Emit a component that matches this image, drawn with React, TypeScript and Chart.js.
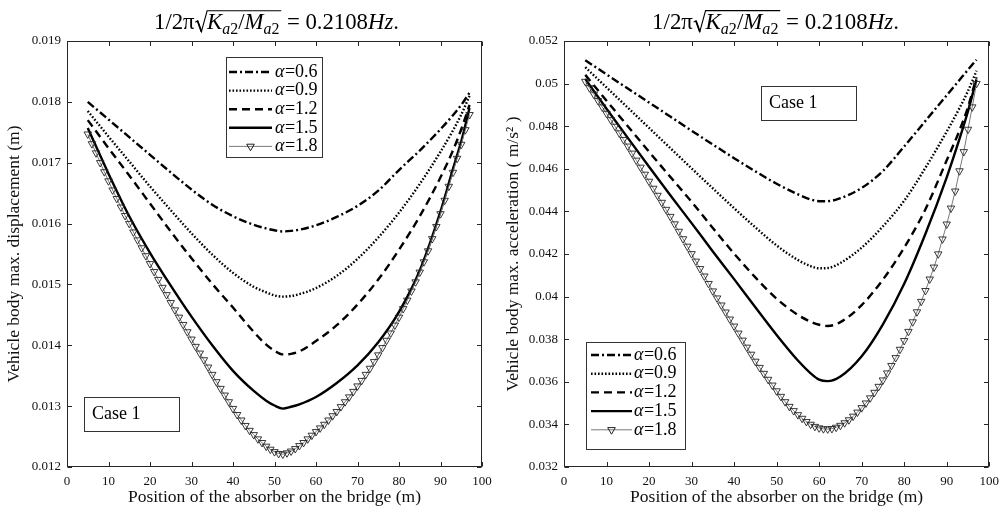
import React, { useEffect, useRef } from "react";
import { Chart, registerables } from "chart.js";

Chart.register(...registerables);

const FONT = "'Liberation Serif', 'Times New Roman', 'DejaVu Serif', serif";

// ---------------- data ----------------
const SERIES_LABELS = ["α=0.6", "α=0.9", "α=1.2", "α=1.5", "α=1.8"];
const X_TICKS = [0, 10, 20, 30, 40, 50, 60, 70, 80, 90, 100];
const DISP_Y_TICKS = [0.012, 0.013, 0.014, 0.015, 0.016, 0.017, 0.018, 0.019];
const ACC_Y_TICKS = [0.032, 0.034, 0.036, 0.038, 0.04, 0.042, 0.044, 0.046, 0.048, 0.05, 0.052];

// positions (m) used for the four line-only series
const DISP_X = [5, 10, 15, 20, 25, 30, 35, 40, 45, 48, 50, 52, 54, 56, 60, 65, 70, 75, 80, 85, 90, 93, 95, 97];
const DISP_A06 = [0.018, 0.01771, 0.01742, 0.01713, 0.01684, 0.01656, 0.01631, 0.01612, 0.01598, 0.01592, 0.01589, 0.01587, 0.01588, 0.0159, 0.01597, 0.01611, 0.01629, 0.01654, 0.01688, 0.0172, 0.01755, 0.01778, 0.01795, 0.01815];
const DISP_A09 = [0.01785, 0.01743, 0.01702, 0.01661, 0.01622, 0.01584, 0.01549, 0.01519, 0.01496, 0.01487, 0.01482, 0.0148, 0.01481, 0.01484, 0.01494, 0.01514, 0.01542, 0.01577, 0.01618, 0.01665, 0.01718, 0.01753, 0.01779, 0.0181];
const DISP_A12 = [0.0177, 0.01724, 0.01679, 0.01633, 0.01587, 0.01543, 0.01501, 0.01462, 0.01422, 0.01401, 0.01391, 0.01385, 0.01386, 0.0139, 0.01407, 0.01433, 0.01467, 0.01508, 0.01557, 0.01612, 0.01676, 0.0172, 0.01755, 0.01795];
const DISP_A15 = [0.01757, 0.01682, 0.01612, 0.01552, 0.01498, 0.01447, 0.014, 0.01358, 0.01325, 0.01309, 0.01301, 0.01296, 0.01299, 0.01303, 0.01315, 0.01338, 0.01367, 0.01405, 0.01455, 0.01523, 0.0162, 0.0169, 0.01735, 0.0179];

// positions (m) of the marked series
const DENSE_X = [5, 6, 7, 8, 9, 10, 11, 12, 13, 14, 15, 16, 17, 18, 19, 20, 21, 22, 23, 24, 25, 26, 27, 28, 29, 30, 31, 32, 33, 34, 35, 36, 37, 38, 39, 40, 41, 42, 43, 44, 45, 46, 47, 48, 49, 50, 51, 52, 53, 54, 55, 56, 57, 58, 59, 60, 61, 62, 63, 64, 65, 66, 67, 68, 69, 70, 71, 72, 73, 74, 75, 76, 77, 78, 79, 80, 81, 82, 83, 84, 85, 86, 87, 88, 89, 90, 91, 92, 93, 94, 95, 96, 97];
const DISP_A18 = [0.01747, 0.01731, 0.01716, 0.017, 0.01685, 0.0167, 0.01655, 0.01641, 0.01627, 0.01613, 0.016, 0.01586, 0.01573, 0.0156, 0.01547, 0.01534, 0.01521, 0.01508, 0.01495, 0.01483, 0.0147, 0.01458, 0.01446, 0.01434, 0.01422, 0.0141, 0.01398, 0.01387, 0.01376, 0.01364, 0.01352, 0.0134, 0.01329, 0.01318, 0.01307, 0.01296, 0.01286, 0.01277, 0.01268, 0.0126, 0.01253, 0.01246, 0.0124, 0.01234, 0.01229, 0.01225, 0.01222, 0.01221, 0.01223, 0.01226, 0.0123, 0.01235, 0.0124, 0.01246, 0.01252, 0.01258, 0.01264, 0.0127, 0.01277, 0.01284, 0.01291, 0.01299, 0.01307, 0.01315, 0.01324, 0.01333, 0.01342, 0.01352, 0.01362, 0.01373, 0.01384, 0.01396, 0.01408, 0.0142, 0.01433, 0.01446, 0.0146, 0.01474, 0.01489, 0.01504, 0.0152, 0.01537, 0.01555, 0.01575, 0.01595, 0.01616, 0.01638, 0.01661, 0.01684, 0.01707, 0.0173, 0.01754, 0.01779];

const ACC_X = [5, 10, 15, 20, 25, 30, 35, 40, 45, 50, 55, 58, 60, 62, 65, 70, 75, 80, 85, 90, 93, 95, 97];
const ACC_A06 = [0.0511, 0.05043, 0.04977, 0.04911, 0.04845, 0.04779, 0.04714, 0.0465, 0.04588, 0.0453, 0.0448, 0.04456, 0.04448, 0.04448, 0.04462, 0.0451, 0.0459, 0.04705, 0.04825, 0.04945, 0.05017, 0.05065, 0.05112];
const ACC_A09 = [0.05077, 0.04982, 0.04887, 0.04792, 0.04697, 0.04602, 0.04508, 0.04415, 0.04325, 0.0424, 0.04172, 0.04143, 0.04133, 0.04134, 0.04158, 0.0423, 0.0433, 0.0445, 0.04605, 0.04775, 0.04885, 0.04965, 0.0506];
const ACC_A12 = [0.05041, 0.0492, 0.048, 0.0468, 0.04562, 0.04445, 0.04322, 0.04202, 0.0409, 0.0399, 0.03914, 0.03882, 0.03868, 0.03862, 0.0388, 0.0396, 0.0408, 0.0423, 0.0441, 0.0464, 0.0478, 0.0489, 0.0503];
const ACC_A15 = [0.05022, 0.04882, 0.04745, 0.0461, 0.04476, 0.04345, 0.04212, 0.04082, 0.0395, 0.0382, 0.037, 0.0364, 0.0361, 0.03603, 0.03625, 0.0372, 0.0387, 0.0406, 0.04295, 0.0456, 0.0474, 0.0487, 0.0502];
const ACC_A18 = [0.0501, 0.0498, 0.0495, 0.0492, 0.0489, 0.0486, 0.0483, 0.04799, 0.04768, 0.04737, 0.04706, 0.04673, 0.0464, 0.04607, 0.04574, 0.04541, 0.04508, 0.04475, 0.04442, 0.04409, 0.04376, 0.04341, 0.04306, 0.04271, 0.04236, 0.04201, 0.04166, 0.04131, 0.04096, 0.04061, 0.04026, 0.03993, 0.0396, 0.03927, 0.03894, 0.03861, 0.03828, 0.03795, 0.03762, 0.03729, 0.03696, 0.03667, 0.03639, 0.03611, 0.03584, 0.03557, 0.03531, 0.03506, 0.03484, 0.03464, 0.03445, 0.03428, 0.03413, 0.034, 0.0339, 0.03383, 0.03379, 0.03378, 0.0338, 0.03386, 0.03395, 0.03407, 0.03421, 0.03438, 0.03457, 0.03478, 0.035, 0.03524, 0.0355, 0.03578, 0.03608, 0.03641, 0.03676, 0.03713, 0.03752, 0.03793, 0.03836, 0.03881, 0.03928, 0.03977, 0.04028, 0.04082, 0.04138, 0.042, 0.0427, 0.0434, 0.04415, 0.04495, 0.0459, 0.0468, 0.04785, 0.0489, 0.05];

// ---------------- styles ----------------
const LINE_STYLES = [
  { dash: [8, 3, 2, 3], width: 2.4, color: "#000000" },
  { dash: [1.6, 1.9], width: 2.4, color: "#000000" },
  { dash: [8, 5], width: 2.4, color: "#000000" },
  { dash: [], width: 2.4, color: "#000000" },
  { dash: [], width: 1, color: "#7a7a7a" },
];
const MARKER_COLOR = "#222222";

function makeDatasets(xLine: number[], lines: number[][], xDense: number[], dense: number[]) {
  const ds: any[] = lines.map((vals, i) => ({
    label: SERIES_LABELS[i],
    data: xLine.map((x, k) => ({ x, y: vals[k] })),
    borderColor: LINE_STYLES[i].color,
    borderWidth: LINE_STYLES[i].width,
    borderDash: LINE_STYLES[i].dash,
    borderCapStyle: "butt",
    pointRadius: 0,
    cubicInterpolationMode: "monotone",
    fill: false,
    order: 5 - i,
  }));
  ds.push({
    label: SERIES_LABELS[4],
    data: xDense.map((x, k) => ({ x, y: dense[k] })),
    borderColor: LINE_STYLES[4].color,
    borderWidth: LINE_STYLES[4].width,
    borderDash: [],
    pointStyle: "triangle",
    rotation: 180,
    pointRadius: 4.3,
    pointBorderWidth: 0.9,
    pointBorderColor: MARKER_COLOR,
    pointBackgroundColor: "rgba(0,0,0,0)",
    tension: 0,
    fill: false,
    order: 0,
  });
  return ds;
}

function fmtTick(v: number) {
  let s = Number(v).toFixed(3);
  s = s.replace(/0+$/, "").replace(/\.$/, "");
  return s;
}

// ---------------- drawing helpers ----------------
type Seg = { t: string; f: string; dy?: number };

function drawSegs(ctx: CanvasRenderingContext2D, segs: Seg[], x: number, y: number) {
  for (const g of segs) {
    ctx.font = g.f;
    ctx.fillText(g.t, x, y + (g.dy || 0));
    x += ctx.measureText(g.t).width;
  }
  return x;
}
function widthOf(ctx: CanvasRenderingContext2D, segs: Seg[]) {
  let w = 0;
  for (const g of segs) {
    ctx.font = g.f;
    w += ctx.measureText(g.t).width;
  }
  return w;
}

function titleParts(S: number) {
  const s = S * 0.7;
  const F = (px: number, it = false) => `${it ? "italic " : ""}${px}px ${FONT}`;
  const pre: Seg[] = [{ t: "1/2π", f: F(S) }];
  const rad: Seg[] = [
    { t: "K", f: F(S, true) },
    { t: "a", f: F(s, true), dy: S * 0.2 },
    { t: "2", f: F(s), dy: S * 0.2 },
    { t: "/", f: F(S) },
    { t: "M", f: F(S, true) },
    { t: "a", f: F(s, true), dy: S * 0.2 },
    { t: "2", f: F(s), dy: S * 0.2 },
  ];
  const post: Seg[] = [
    { t: " = 0.2108", f: F(S) },
    { t: "Hz", f: F(S, true) },
    { t: ".", f: F(S) },
  ];
  return { pre, rad, post };
}

function drawTitle(ctx: CanvasRenderingContext2D, t: any) {
  const measure = (S: number) => {
    const p = titleParts(S);
    return widthOf(ctx, p.pre) + S * 0.55 + widthOf(ctx, p.rad) + S * 0.08 + widthOf(ctx, p.post);
  };
  const S = 20 * (t.width / measure(20));
  const p = titleParts(S);
  const total = measure(S);
  let x = t.cx - total / 2;
  ctx.save();
  ctx.fillStyle = "#000";
  ctx.textAlign = "left";
  ctx.textBaseline = "alphabetic";
  x = drawSegs(ctx, p.pre, x, t.base);
  const radSign = S * 0.55;
  const wRad = widthOf(ctx, p.rad);
  const top = t.base - S * 0.8;
  ctx.strokeStyle = "#000";
  ctx.lineWidth = 1.1;
  ctx.beginPath();
  ctx.moveTo(x + S * 0.03, t.base - S * 0.3);
  ctx.lineTo(x + S * 0.13, t.base - S * 0.36);
  ctx.lineTo(x + S * 0.3, t.base + S * 0.12);
  ctx.lineTo(x + radSign, top);
  ctx.lineTo(x + radSign + wRad + S * 0.08, top);
  ctx.stroke();
  ctx.lineWidth = 1.8;
  ctx.beginPath();
  ctx.moveTo(x + S * 0.13, t.base - S * 0.36);
  ctx.lineTo(x + S * 0.3, t.base + S * 0.12);
  ctx.stroke();
  x = drawSegs(ctx, p.rad, x + radSign, t.base) + S * 0.08;
  drawSegs(ctx, p.post, x, t.base);
  ctx.restore();
}

function drawTriangleDown(ctx: CanvasRenderingContext2D, x: number, y: number, r: number) {
  ctx.beginPath();
  for (let k = 0; k < 3; k++) {
    const a = Math.PI + k * (2 * Math.PI / 3);
    const px = x + Math.sin(a) * r;
    const py = y - Math.cos(a) * r;
    if (k === 0) ctx.moveTo(px, py);
    else ctx.lineTo(px, py);
  }
  ctx.closePath();
  ctx.stroke();
}

function drawLegend(ctx: CanvasRenderingContext2D, chart: any, L: any) {
  ctx.save();
  ctx.fillStyle = "#fff";
  ctx.fillRect(L.x, L.y, L.w, L.h);
  ctx.strokeStyle = "#333";
  ctx.lineWidth = 1;
  ctx.strokeRect(L.x + 0.5, L.y + 0.5, L.w, L.h);
  chart.data.datasets.forEach((ds: any, i: number) => {
    const cy = L.row0 + i * L.gap;
    ctx.save();
    ctx.strokeStyle = ds.borderColor;
    ctx.lineWidth = ds.borderWidth;
    ctx.setLineDash(ds.borderDash || []);
    ctx.beginPath();
    ctx.moveTo(L.l0, cy);
    ctx.lineTo(L.l1, cy);
    ctx.stroke();
    ctx.restore();
    if (ds.pointRadius > 0) {
      ctx.save();
      ctx.strokeStyle = ds.pointBorderColor;
      ctx.lineWidth = 1;
      drawTriangleDown(ctx, (L.l0 + L.l1) / 2, cy, 4.4);
      ctx.restore();
    }
    ctx.fillStyle = "#000";
    ctx.textAlign = "left";
    ctx.textBaseline = "middle";
    ctx.font = `italic ${L.font}px ${FONT}`;
    ctx.fillText(ds.label.slice(0, 1), L.tx, cy);
    const w = ctx.measureText(ds.label.slice(0, 1)).width;
    ctx.font = `${L.font}px ${FONT}`;
    ctx.fillText(ds.label.slice(1), L.tx + w + 0.5, cy);
  });
  ctx.restore();
}

function drawCase(ctx: CanvasRenderingContext2D, C: any) {
  ctx.save();
  ctx.fillStyle = "#fff";
  ctx.fillRect(C.x, C.y, C.w, C.h);
  ctx.strokeStyle = "#333";
  ctx.lineWidth = 1;
  ctx.strokeRect(C.x + 0.5, C.y + 0.5, C.w, C.h);
  ctx.fillStyle = "#000";
  ctx.font = `${C.font}px ${FONT}`;
  ctx.textAlign = "left";
  ctx.textBaseline = "middle";
  ctx.fillText(C.text, C.tx, C.ty);
  ctx.restore();
}

const decorPlugin = {
  id: "decor",
  afterDatasetsDraw(chart: any) {
    const o = chart.options.plugins.decor;
    const ctx = chart.ctx;
    const { left, right, top, bottom } = chart.chartArea;
    ctx.save();
    ctx.strokeStyle = "#262626";
    ctx.lineWidth = 1;
    const L = Math.round(left) + 0.5, R = Math.round(right) - 0.5;
    const T = Math.round(top) + 0.5, B = Math.round(bottom) - 0.5;
    ctx.strokeRect(L, T, R - L, B - T);
    const tl = 4.5;
    ctx.beginPath();
    chart.scales.x.ticks.forEach((t: any) => {
      const px = Math.round(chart.scales.x.getPixelForValue(t.value)) + 0.5;
      ctx.moveTo(px, B); ctx.lineTo(px, B - tl);
      ctx.moveTo(px, T); ctx.lineTo(px, T + tl);
    });
    chart.scales.y.ticks.forEach((t: any) => {
      const py = Math.round(chart.scales.y.getPixelForValue(t.value)) + 0.5;
      ctx.moveTo(L, py); ctx.lineTo(L + tl, py);
      ctx.moveTo(R, py); ctx.lineTo(R - tl, py);
    });
    ctx.stroke();
    ctx.restore();
    drawLegend(ctx, chart, o.legend);
    drawCase(ctx, o.caseBox);
    drawTitle(ctx, o.title);
  },
};

function makeConfig(c: any) {
  return {
    type: "line",
    data: { datasets: c.datasets },
    plugins: [decorPlugin],
    options: {
      responsive: false,
      animation: false,
      devicePixelRatio: 1,
      events: [],
      layout: { padding: { top: 41, right: c.padRight, left: 0, bottom: 0 } },
      plugins: {
        legend: { display: false },
        tooltip: { enabled: false },
        title: { display: false },
        decor: c.decor,
      },
      scales: {
        x: {
          type: "linear",
          min: 0,
          max: 100,
          afterBuildTicks: (s: any) => { s.ticks = X_TICKS.map((v) => ({ value: v })); },
          afterFit: (s: any) => { s.height = 46; },
          grid: { display: false, drawTicks: false },
          border: { display: false },
          ticks: { font: { family: FONT, size: 13 }, color: "#111", padding: 7, maxRotation: 0, autoSkip: false, callback: (v: any) => String(v) },
          title: { display: true, text: c.xTitle, font: { family: FONT, size: 17.5 }, color: "#111", padding: { top: 0, bottom: 5 } },
        },
        y: {
          type: "linear",
          min: c.yMin,
          max: c.yMax,
          afterBuildTicks: (s: any) => { s.ticks = c.yTicks.map((v: number) => ({ value: v })); },
          afterFit: (s: any) => { s.width = c.yWidth; },
          grid: { display: false, drawTicks: false },
          border: { display: false },
          ticks: { font: { family: FONT, size: 13 }, color: "#111", padding: 6, autoSkip: false, callback: (v: any) => fmtTick(v) },
          title: { display: true, text: c.yTitle, font: { family: FONT, size: 17.5 }, color: "#111", padding: { top: c.yTitlePad, bottom: 0 } },
        },
      },
    },
  };
}

function Panel(props: { left: number; width: number; config: any }) {
  const ref = useRef<HTMLCanvasElement | null>(null);
  useEffect(() => {
    if (!ref.current) return;
    const chart = new Chart(ref.current, props.config);
    return () => chart.destroy();
  }, []);
  return (
    <canvas
      ref={ref}
      width={props.width}
      height={513}
      style={{ position: "absolute", left: props.left, top: 0, width: props.width, height: 513 }}
    />
  );
}

export default function App() {
  const leftCfg = makeConfig({
    datasets: makeDatasets(DISP_X, [DISP_A06, DISP_A09, DISP_A12, DISP_A15], DENSE_X, DISP_A18),
    padRight: 18,
    yWidth: 67,
    yMin: 0.012,
    yMax: 0.019,
    yTicks: DISP_Y_TICKS,
    yTitlePad: 4,
    xTitle: "Position of the absorber on the bridge (m)",
    yTitle: "Vehicle body max. displacement (m)",
    decor: {
      title: { cx: 276.5, base: 29, width: 245 },
      legend: { x: 226, y: 57, w: 96, h: 100, row0: 72, gap: 18.6, l0: 229, l1: 272, tx: 275, font: 18 },
      caseBox: { x: 84, y: 397, w: 95, h: 34, tx: 92, ty: 414, font: 18, text: "Case 1" },
    },
  });
  const rightCfg = makeConfig({
    datasets: makeDatasets(ACC_X, [ACC_A06, ACC_A09, ACC_A12, ACC_A15], DENSE_X, ACC_A18),
    padRight: 10,
    yWidth: 64,
    yMin: 0.032,
    yMax: 0.052,
    yTicks: ACC_Y_TICKS,
    yTitlePad: 3,
    xTitle: "Position of the absorber on the bridge (m)",
    yTitle: "Vehicle body max. acceleration ( m/s² )",
    decor: {
      title: { cx: 275.5, base: 29, width: 247 },
      legend: { x: 86, y: 342, w: 99, h: 107, row0: 355, gap: 18.7, l0: 91, l1: 132, tx: 134, font: 18 },
      caseBox: { x: 261, y: 86, w: 95, h: 34, tx: 269, ty: 103, font: 18, text: "Case 1" },
    },
  });
  return (
    <div style={{ position: "fixed", left: 0, top: 0, width: 1006, height: 513, background: "#fff", overflow: "hidden" }}>
      <Panel left={0} width={500} config={leftCfg} />
      <Panel left={500} width={506} config={rightCfg} />
    </div>
  );
}
